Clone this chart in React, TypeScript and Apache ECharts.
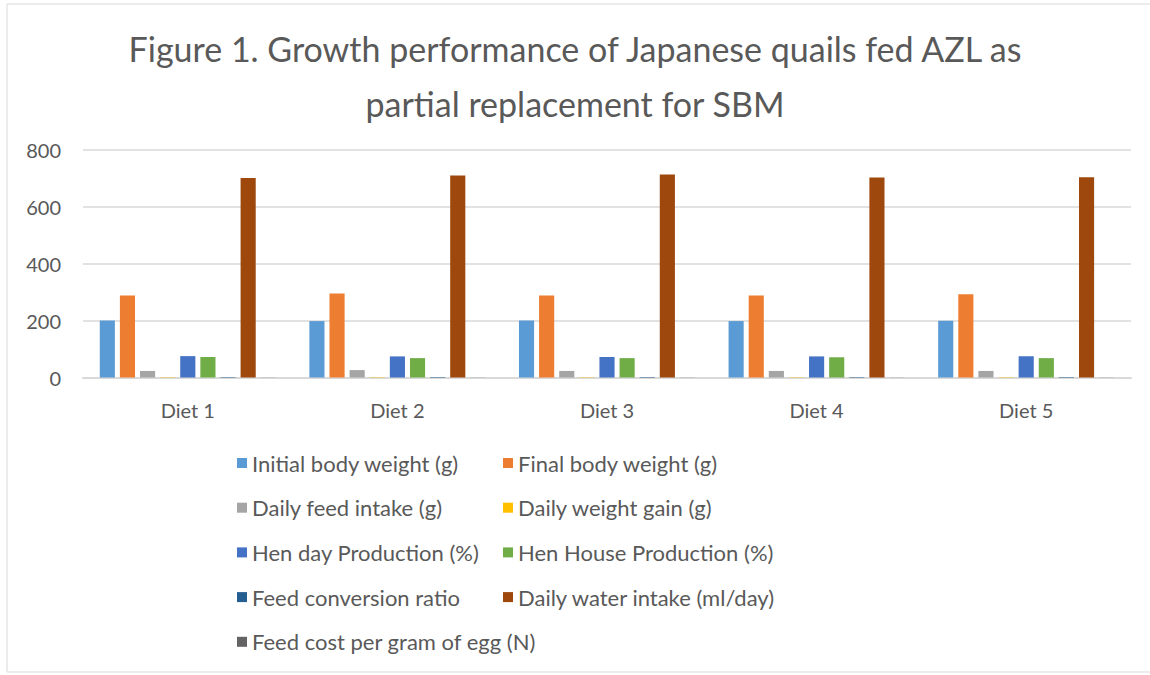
import React, { useEffect, useRef } from "react";
import * as echarts from "echarts";

const categories = ["Diet 1", "Diet 2", "Diet 3", "Diet 4", "Diet 5"];
const seriesNames = [
  "Initial body weight (g)",
  "Final body weight (g)",
  "Daily feed intake (g)",
  "Daily weight gain (g)",
  "Hen day Production (%)",
  "Hen House Production (%)",
  "Feed conversion ratio",
  "Daily water intake (ml/day)",
  "Feed cost per gram of egg (N)",
];
const initialBodyWeight = [200, 198, 200, 198, 199];
const finalBodyWeight = [288, 295, 288, 288, 292];
const dailyFeedIntake = [23, 26, 23, 23, 23];
const dailyWeightGain = [1.2, 1.3, 1.2, 1.2, 1.3];
const henDayProduction = [75, 74, 72, 74, 75];
const henHouseProduction = [72, 68, 68, 71, 68];
const feedConversionRatio = [1.6, 1.7, 1.7, 1.6, 1.7];
const dailyWaterIntake = [700, 709, 712, 702, 703];
const feedCostPerGramEgg = [0.4, 0.4, 0.4, 0.4, 0.4];
const yTicks = [0, 200, 400, 600, 800];

const seriesValues = [
  initialBodyWeight,
  finalBodyWeight,
  dailyFeedIntake,
  dailyWeightGain,
  henDayProduction,
  henHouseProduction,
  feedConversionRatio,
  dailyWaterIntake,
  feedCostPerGramEgg,
];
const colors = [
  "#5B9BD5",
  "#ED7D31",
  "#A5A5A5",
  "#FFC000",
  "#4472C4",
  "#70AD47",
  "#255E91",
  "#9E480E",
  "#636363",
];

const FONT = "Lato, 'Open Sans', sans-serif";

export default function App() {
  const ref = useRef<HTMLDivElement>(null);
  useEffect(() => {
    if (!ref.current) return;
    const chart = echarts.init(ref.current, null, { renderer: "svg" });
    const legendText = { fontFamily: FONT, fontSize: 22, color: "#595959", lineHeight: 22 };
    chart.setOption({
      animation: false,
      backgroundColor: "#ffffff",
      color: colors,
      title: {
        text: "Figure 1. Growth performance of Japanese quails fed AZL as\npartial replacement for SBM",
        left: "center",
        top: 16,
        textStyle: {
          fontFamily: FONT,
          fontSize: 34,
          fontWeight: "normal",
          color: "#595959",
          lineHeight: 55,
          align: "center",
        },
      },
      graphic: [
        {
          type: "rect",
          shape: { x: 7, y: 4, width: 1150, height: 668 },
          style: { fill: "none", stroke: "#d9d9d9", lineWidth: 1 },
          silent: true,
        },
      ],
      grid: { left: 83, right: 19, top: 149.5, bottom: 297.5, containLabel: false },
      legend: [
        {
          orient: "vertical",
          left: 232,
          top: 447,
          itemWidth: 10,
          itemHeight: 10,
          itemGap: 22.7,
          icon: "rect",
          textStyle: legendText,
          data: [seriesNames[0], seriesNames[2], seriesNames[4], seriesNames[6], seriesNames[8]],
        },
        {
          orient: "vertical",
          left: 498,
          top: 447,
          itemWidth: 10,
          itemHeight: 10,
          itemGap: 22.7,
          icon: "rect",
          textStyle: legendText,
          data: [seriesNames[1], seriesNames[3], seriesNames[5], seriesNames[7]],
        },
      ],
      xAxis: {
        type: "category",
        data: categories,
        axisLine: { lineStyle: { color: "#d9d9d9", width: 2 } },
        axisTick: { show: false },
        axisLabel: { fontFamily: FONT, fontSize: 20, color: "#595959", margin: 22 },
      },
      yAxis: {
        type: "value",
        min: yTicks[0],
        max: yTicks[yTicks.length - 1],
        interval: 200,
        axisLine: { show: false },
        axisTick: { show: false },
        axisLabel: { fontFamily: FONT, fontSize: 20, color: "#595959", margin: 22 },
        splitLine: { lineStyle: { color: "#d9d9d9", width: 1.5 } },
      },
      series: seriesNames.map((name, i) => ({
        name,
        type: "bar",
        data: seriesValues[i],
        barGap: "33%",
        barCategoryGap: "16%",
        itemStyle: { color: colors[i] },
      })),
    });
    return () => chart.dispose();
  }, []);
  return (
    <div
      ref={ref}
      style={{ position: "fixed", left: 0, top: 0, width: 1150, height: 675 }}
    />
  );
}
